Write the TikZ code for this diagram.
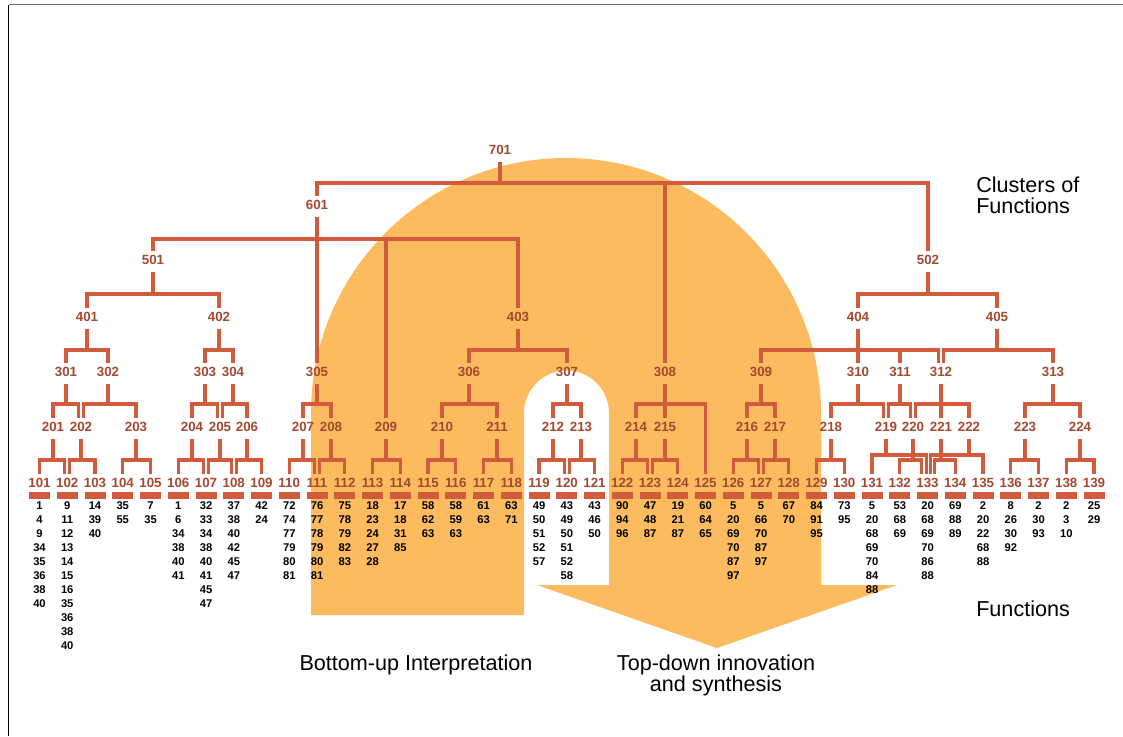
\documentclass[tikz,border=0pt]{standalone}
\usepackage{fontspec}
\setmainfont{Liberation Sans}
\usetikzlibrary{positioning}
\definecolor{linkred}{HTML}{D25B3B}
\definecolor{labred}{HTML}{A4482F}
\definecolor{glow}{HTML}{FCBB5E}

\begin{document}
\begin{tikzpicture}[x=0.75pt, y=-0.75pt,
    link/.style={draw=linkred, line width=2.3pt, shorten <=5.5pt, shorten >=3pt},
    lab/.style={font=\fontsize{10}{12}\selectfont\bfseries, text=labred, inner sep=0pt, text height=7.2pt, text depth=0pt},
    bar/.style={fill=linkred, minimum width=15.75pt, minimum height=5.25pt, inner sep=0pt},
    fnums/.style={font=\fontsize{8.4}{10.5}\selectfont\bfseries, align=center, inner sep=0pt},
    note/.style={font=\fontsize{16.2}{15.8}\selectfont, inner sep=0pt}]
    \useasboundingbox (0,0) rectangle (1123,736);

    % frame
    \draw[black!55, line width=1.4pt] (8.5,4.5) -- (1123,4.5);
    \draw[black, line width=1.1pt] (8.5,4.5) -- (8.5,736);

    % interpretation / innovation area
    \fill[glow] (311,615) -- (311,413) arc[start angle=180, end angle=0, radius=191.25pt]
        -- (821,585) -- (897,585) -- (717,648) -- (537,585) -- (609,585)
        -- (609,413) arc[start angle=0, end angle=180, radius=31.875pt] -- (524,615) -- cycle;

    % clusters
    \node[lab] (n701) at (500,150) {701};
    \node[lab] (n601) at (317,205) {601};
    \foreach \n/\x in {501/153, 502/928}
        \node[lab] (n\n) at (\x,260) {\n};
    \foreach \n/\x in {401/87, 402/219, 403/518, 404/858, 405/997}
        \node[lab] (n\n) at (\x,317) {\n};
    \foreach \n/\x in {301/66, 302/108, 303/205, 304/233, 305/317, 306/469, 307/567,
                       308/665, 309/761, 310/858, 311/900, 312/941, 313/1053}
        \node[lab] (n\n) at (\x,372) {\n};
    \foreach \n/\x in {201/53, 202/81, 203/136, 204/192, 205/220, 206/247, 207/303, 208/331,
                       209/386, 210/442, 211/497, 212/553, 213/581, 214/636, 215/665, 216/747,
                       217/775, 218/831, 219/886, 220/913, 221/941, 222/969, 223/1025, 224/1080}
        \node[lab] (n\n) at (\x,427) {\n};

    % functions
    \foreach \n/\fs [count=\k from 0] in {
        101/1\\4\\9\\34\\35\\36\\38\\40,
        102/9\\11\\12\\13\\14\\15\\16\\35\\36\\38\\40,
        103/14\\39\\40, 104/35\\55, 105/7\\35,
        106/1\\6\\34\\38\\40\\41,
        107/32\\33\\34\\38\\40\\41\\45\\47,
        108/37\\38\\40\\42\\45\\47,
        109/42\\24,
        110/72\\74\\77\\79\\80\\81,
        111/76\\77\\78\\79\\80\\81,
        112/75\\78\\79\\82\\83,
        113/18\\23\\24\\27\\28,
        114/17\\18\\31\\85,
        115/58\\62\\63, 116/58\\59\\63, 117/61\\63, 118/63\\71,
        119/49\\50\\51\\52\\57,
        120/43\\49\\50\\51\\52\\58,
        121/43\\46\\50, 122/90\\94\\96, 123/47\\48\\87, 124/19\\21\\87, 125/60\\64\\65,
        126/5\\20\\69\\70\\87\\97,
        127/5\\66\\70\\87\\97,
        128/67\\70, 129/84\\91\\95, 130/73\\95,
        131/5\\20\\68\\69\\70\\84\\88,
        132/53\\68\\69,
        133/20\\68\\69\\70\\86\\88,
        134/69\\88\\89,
        135/2\\20\\22\\68\\88,
        136/8\\26\\30\\92, 137/2\\30\\93, 138/2\\3\\10, 139/25\\29} {
        \node[lab] (n\n) at ({39.5+27.75*\k},483) {\n};
        \node[bar] (b\n) at ({39.5+27.75*\k},495.5) {};
        \node[fnums, below=1.5pt of b\n] (f\n) {\fs};
    }

    % links: parent/child/bracket/offset
    \foreach \p/\c/\y/\d in {701/601/183/0pt, 701/308/183/0pt, 701/502/183/0pt,
        601/501/239/0pt, 601/305/239/0pt, 601/209/239/0pt, 601/403/239/0pt,
        501/401/294/0pt, 501/402/294/0pt, 502/404/294/0pt, 502/405/294/0pt}
        \draw[link] (n\p.south) -- (n\p.south |- 0,\y) -| ([xshift=\d]n\c.north);
    \foreach \p/\c/\y/\d in {401/301/350/0pt, 401/302/350/0pt, 402/303/350/0pt, 402/304/350/0pt,
        403/306/350/0pt, 403/307/350/0pt, 404/309/350/0pt, 404/310/350/0pt, 404/311/350/0pt,
        404/312/350/-2.1pt, 405/312/350/2.1pt, 405/313/350/0pt}
        \draw[link] (n\p.south) -- (n\p.south |- 0,\y) -| ([xshift=\d]n\c.north);
    \foreach \p/\c/\y/\d in {301/201/404/0pt, 301/202/404/-1.9pt, 302/202/404/1.9pt, 302/203/404/0pt,
        303/204/404/0pt, 303/205/404/-1.9pt, 304/205/404/1.9pt, 304/206/404/0pt,
        305/207/404/0pt, 305/208/404/0pt, 306/210/404/0pt, 306/211/404/0pt,
        307/212/404/0pt, 307/213/404/0pt, 308/214/404/0pt, 308/215/404/0pt, 308/125/404/0pt,
        309/216/404/0pt, 309/217/404/0pt, 310/218/404/0pt, 310/219/404/-1.9pt,
        311/219/404/1.9pt, 311/220/404/-1.9pt, 312/220/404/1.9pt, 312/221/404/0pt,
        312/222/404/0pt, 313/223/404/0pt, 313/224/404/0pt}
        \draw[link] (n\p.south) -- (n\p.south |- 0,\y) -| ([xshift=\d]n\c.north);
    \foreach \p/\c/\y/\d in {201/101/460/0pt, 201/102/460/-1.9pt, 202/102/460/1.9pt, 202/103/460/0pt,
        203/104/460/0pt, 203/105/460/0pt, 204/106/460/0pt, 204/107/460/-1.9pt,
        205/107/460/1.9pt, 205/108/460/-1.9pt, 206/108/460/1.9pt, 206/109/460/0pt,
        207/110/460/0pt, 207/111/460/-1.9pt, 208/111/460/1.9pt, 208/112/460/0pt,
        209/113/460/0pt, 209/114/460/0pt, 210/115/460/0pt, 210/116/460/0pt,
        211/117/460/0pt, 211/118/460/0pt, 212/119/460/0pt, 212/120/460/-1.9pt,
        213/120/460/1.9pt, 213/121/460/0pt, 214/122/460/0pt, 214/123/460/-1.9pt,
        215/123/460/1.9pt, 215/124/460/0pt, 216/126/460/0pt, 216/127/460/-1.9pt,
        217/127/460/1.9pt, 217/128/460/0pt, 218/129/460/0pt, 218/130/460/0pt,
        219/131/455/0pt, 219/133/455/-1pt, 220/132/460/0pt, 220/133/460/-4.3pt,
        221/133/460/5.3pt, 221/134/460/0pt, 222/133/455/2pt, 222/135/455/0pt,
        223/136/460/0pt, 223/137/460/0pt, 224/138/460/0pt, 224/139/460/0pt}
        \draw[link] (n\p.south) -- (n\p.south |- 0,\y) -| ([xshift=\d]n\c.north);

    % captions
    \node[note, anchor=west, align=left] (clu) at (976,195) {Clusters of\\Functions};
    \node[note, anchor=west] (fun) at (976,609) {Functions};
    \node[note] (bot) at (416,665) {Bottom-up Interpretation};
    \node[note, align=center] (top) at (716,675) {Top-down innovation\\and synthesis};
\end{tikzpicture}
\end{document}
